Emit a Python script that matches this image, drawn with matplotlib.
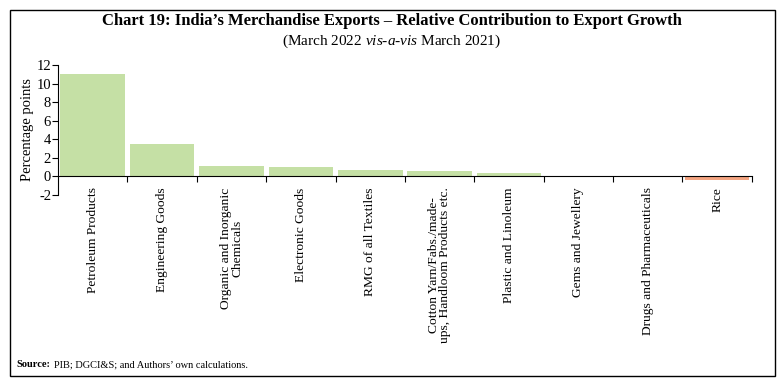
import matplotlib.pyplot as plt
from matplotlib.patches import Rectangle

plt.rcParams['font.family'] = ['Liberation Serif', 'DejaVu Serif']
plt.rcParams['axes.unicode_minus'] = False
plt.rcParams['mathtext.fontset'] = 'custom'
plt.rcParams['mathtext.rm'] = 'Liberation Serif'
plt.rcParams['mathtext.it'] = 'Liberation Serif:italic'

categories = ['Petroleum Products', 'Engineering Goods', 'Organic and Inorganic\nChemicals',
              'Electronic Goods', 'RMG of all Textiles',
              'Cotton Yarn/Fabs./made-\nups, Handloom Products etc.',
              'Plastic and Linoleum', 'Gems and Jewellery', 'Drugs and Pharmaceuticals', 'Rice']
values = [11.0, 3.5, 1.15, 1.05, 0.7, 0.55, 0.35, -0.02, -0.05, -0.45]
yticks = [-2, 0, 2, 4, 6, 8, 10, 12]

green = '#c5e0a5'
orange = '#f4a582'
colors = [green if v >= 0 else orange for v in values]

fig = plt.figure(figsize=(7.84, 3.85), dpi=100)
ax = fig.add_axes([0.074, 0.494, 0.885, 0.337])

x = list(range(len(categories)))
ax.bar(x, values, width=0.93, color=colors, zorder=2)
ax.set_xlim(-0.5, len(categories) - 0.5)
ax.set_ylim(-2, 12)
ax.set_yticks(yticks)
ax.tick_params(axis='y', labelsize=10.5, length=4, width=0.8, pad=1)

ax.spines['top'].set_visible(False)
ax.spines['right'].set_visible(False)
ax.spines['bottom'].set_position(('data', 0))
ax.spines['bottom'].set_zorder(3)
ax.set_xticks([i + 0.5 for i in x])
ax.set_xticklabels([])
ax.tick_params(axis='x', length=4, width=0.8, direction='out')
ax.set_xticks(x, minor=True)
ax.set_xticklabels(categories, minor=True, rotation=90, fontsize=9.7, va='top', ha='center',
                   linespacing=0.95)
ax.tick_params(axis='x', which='minor', length=0, pad=8)
ax.set_ylabel('Percentage points', fontsize=10.5, labelpad=2)

fig.text(0.5, 0.945, 'Chart 19: India\u2019s Merchandise Exports \u2013 Relative Contribution to Export Growth',
         ha='center', va='center', fontsize=12, fontweight='bold')
fig.text(0.5, 0.893, '(March 2022 $\\it{vis}$-$\\it{a}$-$\\it{vis}$ March 2021)',
         ha='center', va='center', fontsize=11)
fig.text(0.021, 0.052, 'Source:', ha='left', va='center', fontsize=7.5, fontweight='bold')
fig.text(0.069, 0.052, 'PIB; DGCI&S; and Authors\u2019 own calculations.', ha='left', va='center', fontsize=7.5)

fig.patches.append(Rectangle((0.013, 0.023), 0.976, 0.95, transform=fig.transFigure,
                             fill=False, edgecolor='black', linewidth=1))

fig.savefig('out.png', dpi=100)
